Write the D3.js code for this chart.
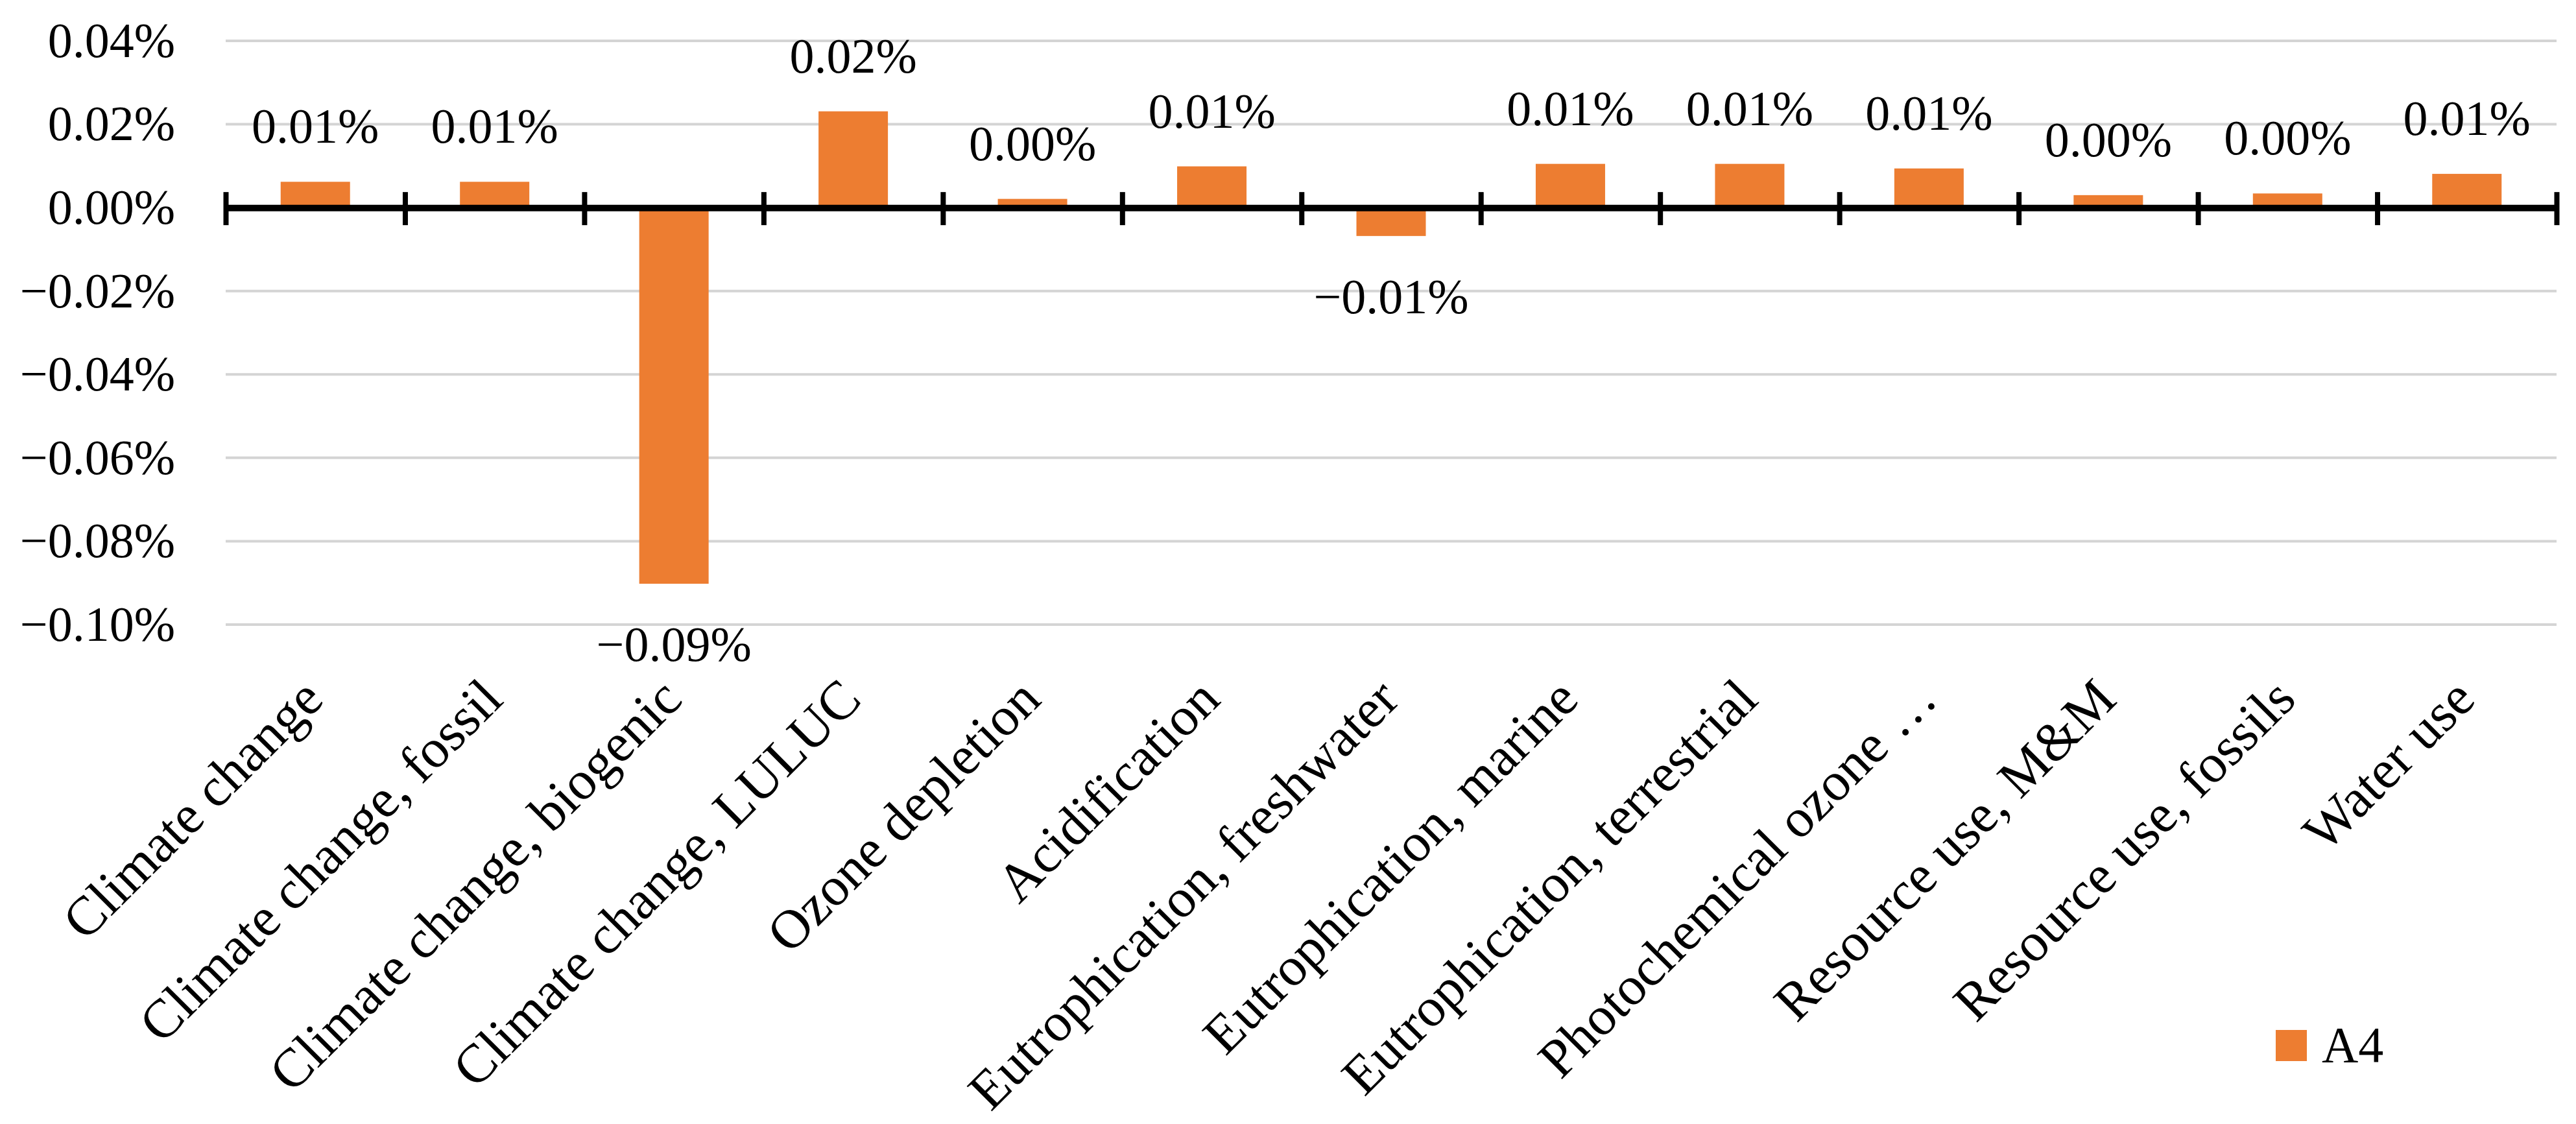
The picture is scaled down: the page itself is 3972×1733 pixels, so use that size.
<!DOCTYPE html>
<html>
<head>
<meta charset="utf-8">
<script src="https://cdn.jsdelivr.net/npm/d3@7"></script>
<style>
  html, body { margin: 0; padding: 0; background: #fff; }
  svg { display: block; }
</style>
</head>
<body>
<div id="chart"></div>
<script>
// categories and values (percent)
const categories = [
    "Climate change",
    "Climate change, fossil",
    "Climate change, biogenic",
    "Climate change, LULUC",
    "Ozone depletion",
    "Acidification",
    "Eutrophication, freshwater",
    "Eutrophication, marine",
    "Eutrophication, terrestrial",
    "Photochemical ozone …",
    "Resource use, M&M",
    "Resource use, fossils",
    "Water use"
];
const valuesA4 = [0.0062, 0.0062, -0.0902, 0.0231, 0.0021, 0.0099, -0.0068, 0.0105, 0.0105, 0.0094, 0.0030, 0.0034, 0.0081];
const yTicks = [0.04, 0.02, 0.00, -0.02, -0.04, -0.06, -0.08, -0.10];
const seriesName = "A4";

document.addEventListener('DOMContentLoaded', function() {
    const width = 3972;
    const height = 1733;
    const marginTop = 63;
    const marginRight = 30;
    const marginLeft = 348;
    const plotBottom = 963;
    const font = "'Liberation Serif', 'Times New Roman', serif";
    const orange = "#ED7D31";

    const data = categories.map((c, i) => ({ name: c, value: valuesA4[i] }));

    const x = d3.scaleBand()
        .domain(categories)
        .range([marginLeft, width - marginRight])
        .padding(0);

    // index scale for the category boundary ticks
    const xIdx = d3.scaleLinear()
        .domain([0, categories.length])
        .range([marginLeft, width - marginRight]);

    const y = d3.scaleLinear()
        .domain([-0.10, 0.04])
        .range([plotBottom, marginTop]);

    const svg = d3.select("#chart").append("svg")
        .attr("width", width)
        .attr("height", height)
        .attr("viewBox", [0, 0, width, height]);

    const fmt = d3.format(".2f");

    // gridlines
    svg.append("g")
        .selectAll("line")
        .data(yTicks.filter(t => t !== 0))
        .join("line")
        .attr("x1", marginLeft)
        .attr("x2", width - marginRight)
        .attr("y1", d => y(d))
        .attr("y2", d => y(d))
        .attr("stroke", "#d4d4d4")
        .attr("stroke-width", 4);

    // y axis labels
    svg.append("g")
        .attr("transform", `translate(${marginLeft},0)`)
        .call(d3.axisLeft(y).tickValues(yTicks).tickSize(0).tickPadding(78).tickFormat(d => fmt(d) + "%"))
        .call(g => g.select(".domain").remove())
        .call(g => g.selectAll("text")
            .attr("font-family", font)
            .attr("font-size", 76)
            .attr("fill", "#000"));

    // bars
    const barW = x.bandwidth() * 0.387;
    svg.append("g")
        .selectAll("rect")
        .data(data)
        .join("rect")
        .attr("x", d => x(d.name) + (x.bandwidth() - barW) / 2)
        .attr("y", d => y(Math.max(0, d.value)))
        .attr("width", barW)
        .attr("height", d => Math.abs(y(d.value) - y(0)))
        .attr("fill", orange);

    // zero axis with ticks on category boundaries
    svg.append("g")
        .attr("transform", `translate(0,${y(0)})`)
        .call(d3.axisBottom(xIdx).tickValues(d3.range(categories.length + 1)).tickFormat("").tickSizeOuter(0))
        .call(g => g.select(".domain").attr("stroke", "#000").attr("stroke-width", 10))
        .call(g => g.selectAll(".tick line")
            .attr("y1", -24)
            .attr("y2", 27)
            .attr("stroke", "#000")
            .attr("stroke-width", 8));

    // value labels
    svg.append("g")
        .selectAll("text")
        .data(data)
        .join("text")
        .attr("x", d => x(d.name) + x.bandwidth() / 2)
        .attr("y", d => d.value >= 0 ? y(d.value) - 60 : y(d.value) + 119)
        .attr("text-anchor", "middle")
        .attr("font-family", font)
        .attr("font-size", 76)
        .attr("fill", "#000")
        .text(d => fmt(d.value) + "%");

    // category labels, rotated
    svg.append("g")
        .selectAll("text")
        .data(categories)
        .join("text")
        .attr("transform", d => `translate(${x(d) + x.bandwidth() / 2 + 16},1082) rotate(-45)`)
        .attr("text-anchor", "end")
        .attr("font-family", font)
        .attr("font-size", 84)
        .attr("fill", "#000")
        .text(d => d);

    // legend
    const legend = svg.append("g").attr("transform", "translate(3509,1588)");
    legend.append("rect")
        .attr("width", 48)
        .attr("height", 48)
        .attr("fill", orange);
    legend.append("text")
        .attr("x", 71)
        .attr("y", 49)
        .attr("font-family", font)
        .attr("font-size", 78)
        .attr("fill", "#000")
        .text(seriesName);
});
</script>
</body>
</html>
